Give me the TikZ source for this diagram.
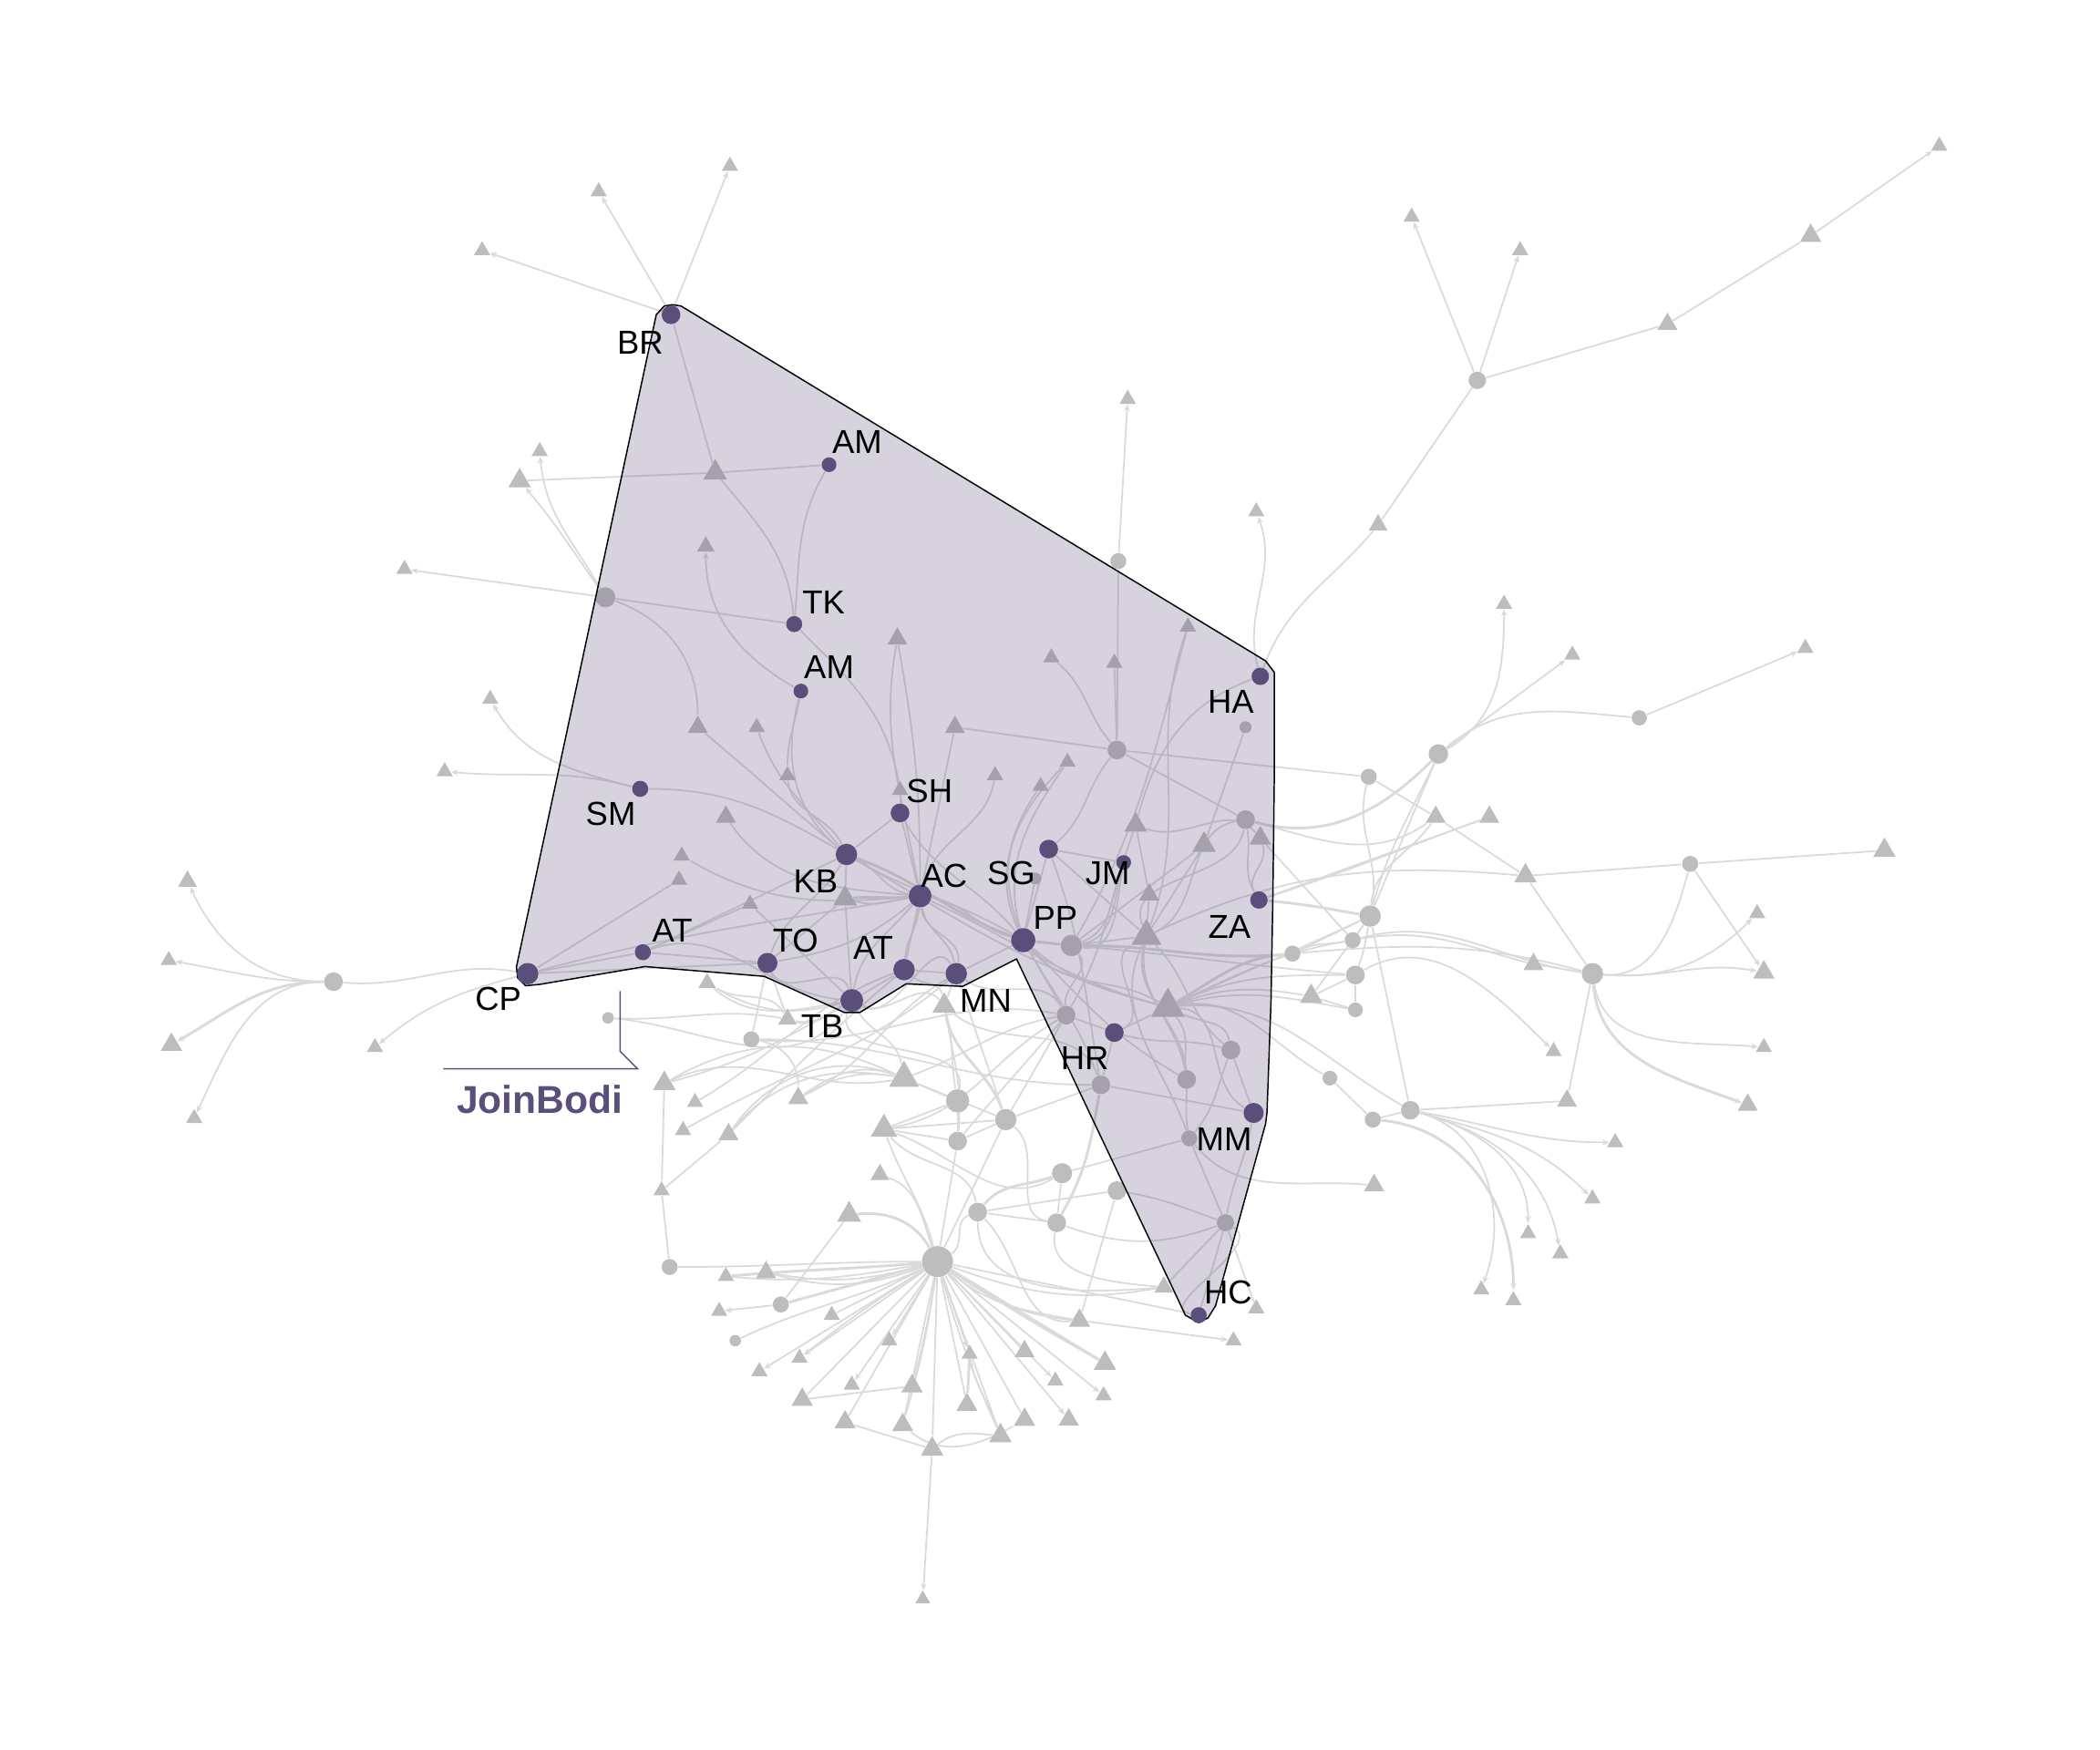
\documentclass[tikz,border=0pt]{standalone}
\usepackage{fontspec}
\setmainfont{Liberation Sans}
\usetikzlibrary{shapes.geometric,arrows.meta,backgrounds}
\definecolor{bodi}{HTML}{5A4E7A}
\definecolor{nodegray}{HTML}{BDBDBD}
\definecolor{linkgray}{HTML}{DADADA}
\tikzset{
  dot/.style={circle,fill=nodegray,inner sep=0pt,minimum size=#1 pt},
  tri/.style={regular polygon,regular polygon sides=3,fill=nodegray,inner sep=0pt,minimum size=1.08*#1 pt,yshift=-1pt},
  actor/.style={circle,fill=bodi,inner sep=0pt,minimum size=#1 pt},
  lab/.style={font=\fontsize{12.4}{14}\selectfont,inner sep=0pt},
  every edge/.style={draw=linkgray,line width=.6pt},
  tipped/.style={every edge/.append style={-{Stealth[length=2.6pt,width=2.2pt]}}},
  thick link/.style={line width=1pt}
}
\begin{document}
\begin{tikzpicture}[x=.5pt,y=-.5pt]
\useasboundingbox (0,0) rectangle (1568,1306.67);
% grey circles
\node[dot=7] (c1) at (249,733) {};
\node[dot=7.5] (c2) at (452,446) {};
\node[dot=6] (c3) at (835,419) {};
\node[dot=7] (c4) at (834,560) {};
\node[dot=4.5] (c5) at (930,543) {};
\node[dot=7] (c6) at (930,612) {};
\node[dot=4.5] (c7) at (773,656) {};
\node[dot=8] (c8) at (800,706) {};
\node[dot=7] (c9) at (796,758) {};
\node[dot=7] (c10) at (919,784) {};
\node[dot=7] (c11) at (886,806) {};
\node[dot=7] (c12) at (822,810) {};
\node[dot=6] (c13) at (888,850) {};
\node[dot=6.5] (c14) at (915,913) {};
\node[dot=4.3] (c15) at (454,760) {};
\node[dot=6] (c16) at (561,776) {};
\node[dot=8.7] (c17) at (715,822) {};
\node[dot=8] (c18) at (751,836) {};
\node[dot=7] (c19) at (715,852) {};
\node[dot=7.5] (c20) at (793,876) {};
\node[dot=7] (c21) at (834,889) {};
\node[dot=7] (c22) at (730,905) {};
\node[dot=7] (c23) at (789,913) {};
\node[dot=11.6] (c24) at (700,942) {};
\node[dot=6] (c25) at (500,946) {};
\node[dot=6] (c26) at (583,974) {};
\node[dot=4.3] (c27) at (549,1001) {};
\node[dot=7.3] (c28) at (1074,563) {};
\node[dot=6] (c29) at (1022,580) {};
\node[dot=5.7] (c30) at (1224,536) {};
\node[dot=6] (c31) at (1262,645) {};
\node[dot=8] (c32) at (1023,684) {};
\node[dot=6] (c33) at (1010,702) {};
\node[dot=6] (c34) at (965,712) {};
\node[dot=7] (c35) at (1012,728) {};
\node[dot=5.5] (c36) at (1012,754) {};
\node[dot=8] (c37) at (1189,727) {};
\node[dot=5.5] (c38) at (993,805) {};
\node[dot=6] (c39) at (1025,836) {};
\node[dot=7] (c40) at (1053,829) {};
\node[dot=6.5] (c41) at (1103,284) {};
% grey triangles
\node[tri=7.5] (t1) at (140,656) {};
\node[tri=6.5] (t2) at (126,715) {};
\node[tri=8.5] (t3) at (128,778) {};
\node[tri=6.5] (t4) at (145,833) {};
\node[tri=6.5] (t5) at (280,780) {};
\node[tri=6.5] (t6) at (360,185) {};
\node[tri=6.5] (t7) at (447,141) {};
\node[tri=6.5] (t8) at (545,122) {};
\node[tri=9] (t9) at (388,357) {};
\node[tri=6.5] (t10) at (403,335) {};
\node[tri=9.5] (t11) at (534,351) {};
\node[tri=6.5] (t12) at (302,423) {};
\node[tri=7] (t13) at (527,406) {};
\node[tri=8] (t14) at (521,541) {};
\node[tri=6.5] (t15) at (366,520) {};
\node[tri=6.5] (t16) at (332,574) {};
\node[tri=6.5] (t17) at (565,541) {};
\node[tri=6.5] (t18) at (588,577) {};
\node[tri=8] (t19) at (542,608) {};
\node[tri=6.5] (t20) at (509,637) {};
\node[tri=6.5] (t21) at (507,655) {};
\node[tri=6.5] (t22) at (560,673) {};
\node[tri=9.5] (t23) at (631,669) {};
\node[tri=8] (t24) at (670,475) {};
\node[tri=8] (t25) at (713,541) {};
\node[tri=6.5] (t26) at (672,588) {};
\node[tri=6.5] (t27) at (743,577) {};
\node[tri=6.5] (t28) at (777,585) {};
\node[tri=6.5] (t29) at (797,567) {};
\node[tri=6.5] (t30) at (785,489) {};
\node[tri=6.5] (t31) at (832,493) {};
\node[tri=6.5] (t32) at (887,466) {};
\node[tri=6.5] (t33) at (842,296) {};
\node[tri=6.5] (t34) at (938,380) {};
\node[tri=9] (t35) at (848,614) {};
\node[tri=9.5] (t36) at (899,629) {};
\node[tri=8.7] (t37) at (941,624) {};
\node[tri=8] (t38) at (858,666) {};
\node[tri=12] (t39) at (856,697) {};
\node[tri=13.5] (t40) at (872,750) {};
\node[tri=7] (t41) at (528,732) {};
\node[tri=7.5] (t42) at (588,759) {};
\node[tri=9.4] (t43) at (705,749) {};
\node[tri=9] (t44) at (496,807) {};
\node[tri=6.5] (t45) at (519,821) {};
\node[tri=6.5] (t46) at (510,842) {};
\node[tri=8] (t47) at (596,818) {};
\node[tri=8] (t48) at (544,845) {};
\node[tri=12] (t49) at (675,803) {};
\node[tri=10.6] (t50) at (660,841) {};
\node[tri=7.5] (t51) at (657,875) {};
\node[tri=9.6] (t52) at (634,905) {};
\node[tri=6.5] (t53) at (494,887) {};
\node[tri=6.5] (t54) at (542,951) {};
\node[tri=8] (t55) at (572,948) {};
\node[tri=6.5] (t56) at (537,977) {};
\node[tri=6.5] (t57) at (621,980) {};
\node[tri=6.5] (t58) at (597,1012) {};
\node[tri=6.5] (t59) at (567,1022) {};
\node[tri=6.5] (t60) at (664,999) {};
\node[tri=6.5] (t61) at (724,1009) {};
\node[tri=8] (t62) at (765,1007) {};
\node[tri=9] (t63) at (825,1016) {};
\node[tri=6.5] (t64) at (788,1029) {};
\node[tri=6.5] (t65) at (824,1040) {};
\node[tri=6.5] (t66) at (636,1032) {};
\node[tri=8.5] (t67) at (681,1033) {};
\node[tri=8.5] (t68) at (599,1043) {};
\node[tri=8.5] (t69) at (722,1047) {};
\node[tri=8.5] (t70) at (631,1060) {};
\node[tri=8.5] (t71) at (674,1062) {};
\node[tri=8.5] (t72) at (765,1058) {};
\node[tri=8] (t73) at (798,1058) {};
\node[tri=9] (t74) at (747,1070) {};
\node[tri=9] (t75) at (696,1080) {};
\node[tri=6] (t76) at (689,1192) {};
\node[tri=8.5] (t77) at (806,984) {};
\node[tri=6.5] (t78) at (921,999) {};
\node[tri=6.5] (t79) at (938,975) {};
\node[tri=7.5] (t80) at (869,959) {};
\node[tri=8] (t81) at (1072,608) {};
\node[tri=8] (t82) at (1112,608) {};
\node[tri=9] (t83) at (1139,652) {};
\node[tri=9] (t84) at (1407,633) {};
\node[tri=6.5] (t85) at (1174,487) {};
\node[tri=6.5] (t86) at (1348,482) {};
\node[tri=6.5] (t87) at (1123,449) {};
\node[tri=7.5] (t88) at (1029,390) {};
\node[tri=6.5] (t89) at (1054,160) {};
\node[tri=6.5] (t90) at (1135,185) {};
\node[tri=8] (t91) at (1245,240) {};
\node[tri=8.5] (t92) at (1352,174) {};
\node[tri=6.5] (t93) at (1448,107) {};
\node[tri=9] (t94) at (979,742) {};
\node[tri=8] (t95) at (1145,718) {};
\node[tri=6.5] (t96) at (1312,680) {};
\node[tri=8.5] (t97) at (1317,724) {};
\node[tri=6.5] (t98) at (1160,783) {};
\node[tri=6.5] (t99) at (1317,780) {};
\node[tri=8] (t100) at (1305,823) {};
\node[tri=8] (t101) at (1170,820) {};
\node[tri=6.5] (t102) at (1206,851) {};
\node[tri=6.5] (t103) at (1189,893) {};
\node[tri=6.5] (t104) at (1165,934) {};
\node[tri=6.5] (t105) at (1141,919) {};
\node[tri=6.5] (t106) at (1106,961) {};
\node[tri=6.5] (t107) at (1130,969) {};
\node[tri=8] (t108) at (1026,883) {};
% the shaded group
\draw[fill=bodi,fill opacity=.25,line width=.5pt,line join=round]
  (385.6,722) -- (490,235) -- (496,228.5) -- (502,227.5) -- (508.5,228.5) -- (945,493.5) -- (951.5,502)
  -- (951.5,578) -- (950.4,670) -- (949,748) -- (946,831) -- (945,839) -- (907.6,975) -- (902,984)
  -- (895,987.5) -- (885,982) -- (879,969) -- (759,716) -- (718.8,736.5) -- (676.6,734.6) -- (642,756)
  -- (630.5,756) -- (570.6,729) -- (481.5,721.7) -- (403,735) -- (392.5,736) -- (386.5,730) -- cycle;
% actors
\node[actor=7] (br) at (501,235) {};
\node[actor=5.5] (am) at (619,347) {};
\node[actor=6] (tk) at (593,466) {};
\node[actor=5.5] (amb) at (598,516) {};
\node[actor=6] (sm) at (478,589) {};
\node[actor=7] (sh) at (672,607) {};
\node[actor=8] (kb) at (632,638) {};
\node[actor=8.5] (ac) at (687,669) {};
\node[actor=7] (sg) at (783,634) {};
\node[actor=5.5] (jm) at (839,644) {};
\node[actor=9] (pp) at (764,702) {};
\node[actor=6.5] (ha) at (941,505) {};
\node[actor=6.5] (za) at (940,672) {};
\node[actor=7] (hr) at (832,771) {};
\node[actor=7.5] (mm) at (936,831) {};
\node[actor=6] (hc) at (895,982) {};
\node[actor=8] (cp) at (394,727) {};
\node[actor=6] (at) at (480,711) {};
\node[actor=7.5] (to) at (573,719) {};
\node[actor=8] (atb) at (675,724) {};
\node[actor=8] (mn) at (714,727) {};
\node[actor=8.5] (tb) at (636,747) {};
% labels
\node[lab] (lbr) at (478,256) {BR};
\node[lab] (lam) at (640,330) {AM};
\node[lab] (ltk) at (615,450) {TK};
\node[lab] (lamb) at (619,498) {AM};
\node[lab] (lsm) at (456,608) {SM};
\node[lab] (lsh) at (694,591) {SH};
\node[lab] (lkb) at (609,658) {KB};
\node[lab] (lac) at (705,654) {AC};
\node[lab] (lsg) at (755,652) {SG};
\node[lab] (ljm) at (827,652) {JM};
\node[lab] (lpp) at (788,685) {PP};
\node[lab] (lha) at (919,524) {HA};
\node[lab] (lza) at (918,692) {ZA};
\node[lab] (lhr) at (810,790) {HR};
\node[lab] (lmm) at (914,851) {MM};
\node[lab] (lhc) at (917,965) {HC};
\node[lab] (lcp) at (372,746) {CP};
\node[lab] (lat) at (502,695) {AT};
\node[lab] (lto) at (594,702) {TO};
\node[lab] (latb) at (652,708) {AT};
\node[lab] (lmn) at (736,747) {MN};
\node[lab] (ltb) at (614,766) {TB};
% the tag of the group
\node[font=\bfseries\fontsize{14.5}{16}\selectfont,text=bodi,inner sep=0pt] (tag) at (403,821) {JoinBodi};
\coordinate (tagtop) at (463,740);
\coordinate (tagbend) at (463,785);
\coordinate (tagfoot) at (476,798);
\coordinate (tagend) at (331,798);
\draw[bodi,line width=.5pt] (tagtop) -- (tagbend) -- (tagfoot) -- (tagend);
% links
\begin{pgfonlayer}{background}
\path[tipped] (c1) edge[out=180,in=-65] (t1) edge[out=180,in=-10] (t2) edge[out=180,in=30,thick link] (t3)
  edge[out=180,in=65] (t4);
\path (c1) edge[out=-5,in=170] (cp);
\path[tipped] (cp) edge[out=195,in=40] (t5);
\path (cp) edge (at) edge (to) edge (t21) edge[out=15,in=190] (ac);
\path[tipped] (br) edge (t6) edge (t7) edge (t8);
\path (br) edge (t11);
\path (am) edge (t11) edge[out=-120,in=85] (tk);
\path (t11) edge (t9) edge[out=-50,in=95] (tk);
\path[tipped] (c2) edge (t12) edge[out=125,in=-50] (t9) edge[out=120,in=-85] (t10);
\path (c2) edge (tk) edge[out=-20,in=90] (t14);
\path (tk) edge[out=-45,in=100] (t26);
\path[tipped] (amb) edge[out=150,in=-90] (t13);
\path (amb) edge[out=-105,in=140] (kb) edge[out=-100,in=90] (t18);
\path (kb) edge[out=140,in=-40] (t14) edge[out=130,in=-70] (t17) edge[out=115,in=-85] (t18)
  edge[out=150,in=0] (sm) edge (sh) edge[out=-25,in=170] (ac) edge[out=-20,in=160,thick link] (pp)
  edge[out=-30,in=150] (pp) edge (t23) edge[out=-30,in=165] (t40);
\path[tipped] (sm) edge[out=165,in=-60] (t15) edge[out=165,in=-5] (t16);
\path (ac) edge[out=175,in=-55] (t19) edge[out=185,in=-30] (t20) edge[out=-175,in=5,thick link] (t23)
  edge[out=-170,in=-15] (t23) edge[out=100,in=-100] (t24) edge[out=90,in=-80] (t24) edge (t25)
  edge[out=75,in=-100] (t27) edge (sh) edge[out=-10,in=165] (pp) edge[out=-25,in=165] (t40)
  edge[out=-95,in=85] (atb) edge[out=-80,in=100] (mn) edge[out=-85,in=80] (mn) edge[out=-130,in=80] (tb);
\path (sh) edge (t26) edge[out=-60,in=130] (pp);
\path (t25) edge (c4);
\path (c4) edge (c29) edge (c6) edge (c3) edge (t31) edge[out=130,in=-40] (t30) edge[out=-130,in=40] (sg);
\path[tipped] (c3) edge (t33);
\path (pp) edge[out=110,in=-125] (t28) edge[out=105,in=-125] (t29) edge[out=115,in=-135] (t29)
  edge (sg) edge (c7) edge[thick link] (c8) edge[out=-40,in=165] (t40) edge[out=-50,in=150] (t40)
  edge (c9) edge[out=-60,in=110] (c12) edge[out=-45,in=150] (c11);
\path (sg) edge (jm) edge (t39) edge[out=-70,in=100] (c12);
\path (jm) edge[out=-110,in=20] (c8) edge[out=-105,in=10] (c8) edge[out=-100,in=-10] (c8);
\path (ha) edge[out=200,in=75] (t35) edge[out=70,in=-130] (t88);
\path[tipped] (ha) edge[out=105,in=-70] (t34);
\path (t88) edge (c41);
\path[tipped] (c41) edge (t89) edge (t90);
\path (c41) edge (t91);
\path (t91) edge (t92);
\path[tipped] (t92) edge (t93);
\path (c5) edge (t36);
\path (t32) edge[out=-110,in=70] (t39) edge[out=-105,in=60] (c8);
\path[tipped] (c28) edge (t85) edge[out=30,in=-90] (t87);
\path (c28) edge[out=40,in=175] (c30);
\path[tipped] (c30) edge (t86);
\path (c32) edge (c28) edge[out=75,in=-115] (c28) edge[out=85,in=-125] (t81) edge[out=80,in=-105] (c29)
  edge (t94) edge (c33) edge (c40) edge[out=-100,in=70] (c35);
\path (c6) edge[out=-15,in=-135,thick link] (c28) edge[out=-15,in=-145] (t81)
  edge[out=-80,in=120] (za) edge[out=-100,in=110] (t39);
\path (c29) edge (t81);
\path (t81) edge (t83);
\path (za) edge (t82) edge[out=18,in=-160] (t82) edge[out=-5,in=170,thick link] (c32)
  edge[out=120,in=-70] (t37);
\path (t37) edge (c33);
\path (t83) edge (c31) edge (c37) edge[out=175,in=25] (t39);
\path (c31) edge (t84);
\path[tipped] (c31) edge (t97);
\path (c31) edge[out=-105,in=-5] (c37);
\path[tipped] (c37) edge[out=-5,in=-135] (t96) edge[out=-5,in=170] (t97)
  edge[out=-80,in=175] (t99) edge[out=-85,in=160,thick link] (t100);
\path (c37) edge (t95) edge (t101);
\path (c33) edge[out=15,in=172] (c37) edge[out=10,in=165] (t95);
\path (c34) edge (c32) edge[out=25,in=-170] (c33) edge[out=5,in=165] (c37);
\path[tipped] (c35) edge[out=30,in=135] (t98);
\path (c35) edge (t94);
\path (c36) edge (c35) edge (t94);
\path (c38) edge (c39);
\path (c39) edge (c40);
\path[tipped] (c39) edge[out=-5,in=90,thick link] (t107);
\path (c40) edge (t101);
\path[tipped] (c40) edge[out=-10,in=180] (t102) edge[out=-15,in=135] (t103)
  edge[out=-15,in=100] (t104) edge[out=-15,in=90] (t105) edge[out=-15,in=70] (t106);
\path (t40) edge[out=30,in=185,thick link] (c34) edge[out=25,in=180] (c35) edge[out=25,in=190] (c33)
  edge[out=20,in=170] (t94) edge[out=25,in=205] (c32) edge[out=10,in=150] (c38)
  edge[out=5,in=150] (c40) edge[out=15,in=170] (c36)
  edge[out=-25,in=100] (c10) edge[out=-50,in=95] (c11) edge[out=-5,in=150] (mm);
\path (c8) edge[out=0,in=185,thick link] (c34) edge[out=-5,in=175] (c35) edge (t39) edge (t36) edge[out=-50,in=95] (c9);
\path (t39) edge (t36) edge[out=-100,in=100] (c11) edge[out=-105,in=95] (c11) edge[out=-45,in=140] (c10)
  edge[out=-115,in=110] (c13) edge (t38) edge[out=25,in=-170] (c6);
\path (t38) edge (t35);
\path (t35) edge[out=-20,in=130] (t37) edge[out=-110,in=60] (c9);
\path (c10) edge (mm) edge[out=-110,in=50] (c13);
\path (c11) edge[out=-90,in=100] (c13);
\path (mm) edge (c12) edge[out=-100,in=80] (c14);
\path (hr) edge (t40) edge (c12) edge (c9) edge[out=-15,in=165] (c10) edge[out=25,in=-150] (t39);
\path (c14) edge (t79) edge (hc) edge (t80) edge (c13) edge[out=160,in=-10] (c21) edge[out=-160,in=-20] (c23);
\path (c13) edge (c20) edge[out=-50,in=175] (t108);
\path (hc) edge (c24) edge[out=170,in=-30] (c14);
\path (c20) edge[out=-160,in=50,thick link] (c22) edge (c23) edge[out=-150,in=-20] (t50);
\path (c22) edge (c21) edge (c23) edge[out=-160,in=30] (c24) edge[out=-90,in=185] (t80)
  edge[out=100,in=-50] (t50) edge[out=-45,in=-175] (t77);
\path (c23) edge[out=60,in=-100,thick link] (c12) edge[out=-100,in=175] (t80) edge[out=170,in=-40] (c18);
\path (c21) edge (t77);
\path (c18) edge (c12) edge (t49) edge (t50) edge (c24) edge (c9) edge[out=110,in=-80,thick link] (t43);
\path (c17) edge (t49) edge (t50) edge (c19) edge[out=100,in=-75] (t43) edge[out=80,in=-110] (tb);
\path (c19) edge (c24) edge[out=85,in=-80] (t43) edge (t50) edge (c18);
\path (c9) edge[out=-170,in=20] (t49) edge[out=-150,in=10] (t50) edge[out=-130,in=50] (c19);
\path (t50) edge[out=-70,in=105] (c24);
\path (t51) edge[out=-20,in=110] (c24);
\path (t52) edge[out=5,in=120,thick link] (c24) edge (c26);
\path (t44) edge[out=30,in=155] (t49) edge[out=15,in=-150] (tb) edge (t53) edge[out=25,in=-170] (t49);
\path (t45) edge[out=30,in=-160] (atb);
\path (t46) edge[out=30,in=-140] (mn);
\path (t47) edge[out=30,in=170] (t49) edge[out=25,in=-150] (mn) edge[out=35,in=160] (t49);
\path (t48) edge[out=50,in=170] (t49) edge[out=55,in=160] (t49) edge[out=45,in=-140] (atb) edge (t53);
\path (c15) edge[out=-5,in=-125] (tb) edge[out=-3,in=170] (t42);
\path (c16) edge (to) edge[out=0,in=180] (c12) edge[out=-5,in=170] (c9) edge[out=-10,in=90] (t47);
\path (t41) edge[out=-40,in=-170] (tb) edge[out=-30,in=-165] (tb) edge[out=-30,in=120] (t42);
\path (t42) edge[out=-15,in=-150,thick link] (tb) edge (to);
\path (tb) edge (t23) edge (atb) edge (t22) edge[out=-60,in=100] (t49) edge[out=-25,in=130] (t43) edge[out=-30,in=120] (mn);
\path (t23) edge (to) edge (kb);
\path (to) edge[out=10,in=-140] (ac) edge[out=70,in=-120] (kb) edge[out=-65,in=105] (tb);
\path (at) edge (to) edge (kb) edge[out=20,in=175] (tb) edge (t22);
\path (atb) edge (mn) edge[out=-40,in=100] (t43) edge (ac);
\path (mn) edge[out=-35,in=120] (c9) edge (pp) edge (t43) edge (c18);
\path (t43) edge[out=-40,in=110] (c12);
% the fan below the big hub
\path (c24) edge[out=-170,in=-5] (t54) edge[out=-175,in=5,thick link] (t54) edge[out=-165,in=-10] (t55)
  edge[out=-160,in=-15] (t55) edge[thick link] (c26) edge (t57) edge[out=-180,in=0] (c25) edge[out=-155,in=25] (c27);
\path[tipped] (c24) edge (t58) edge[bend right=3] (t58) edge (t59) edge (t60) edge (t66) edge (t61) edge (t64) edge (t65) edge (t73);
\path (c24) edge (t68) edge[bend left=3] (t67) edge (t70) edge (t71) edge[bend left=4] (t71) edge (t75) edge (t69)
  edge (t74) edge[bend right=4] (t74) edge (t72) edge (t62) edge[thick link] (t63) edge[bend right=2] (t63)
  edge[out=-40,in=170] (t77) edge[out=-35,in=175] (t77) edge[out=-20,in=-170] (t80);
\path[tipped] (c26) edge (t56);
\path (t61) edge[thick link] (t69) edge[out=-80,in=110] (t74);
\path (t68) edge (t67);
\path (t70) edge (t75);
\path (t75) edge[out=40,in=175] (t74);
\path[tipped] (t75) edge (t76);
\path (t71) edge[out=-40,in=-150] (t72);
\path[tipped] (t77) edge (t78);
\path (t53) edge (c25);
\end{pgfonlayer}
\end{tikzpicture}
\end{document}
